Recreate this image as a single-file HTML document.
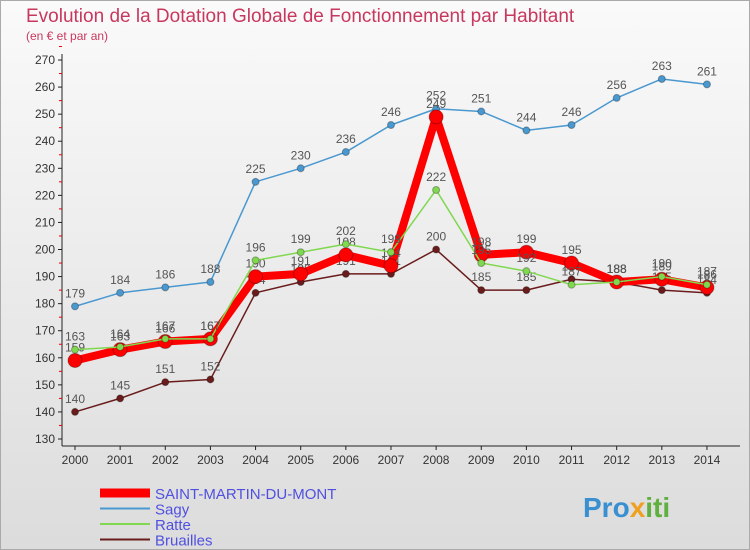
<!DOCTYPE html>
<html><head><meta charset="utf-8"><style>
body{margin:0;width:750px;height:550px;overflow:hidden;font-family:"Liberation Sans",sans-serif}
#c{position:absolute;left:0;top:0;width:748px;height:548px;border:1px solid #aaa;background:linear-gradient(#fafafa,#dcdcdc)}
</style></head><body>
<div id="c"></div>
<svg id="s" width="750" height="550" style="position:absolute;left:0;top:0">
<text x="26" y="22" font-size="19" fill="#c8385e">Evolution de la Dotation Globale de Fonctionnement par Habitant</text>
<text x="26" y="40" font-size="12" fill="#c8385e">(en € et par an)</text>
<g id="g"></g>
<text x="583" y="517" font-size="28" font-weight="bold" fill="#3a8fd0">Pro<tspan fill="#f0a020">x</tspan><tspan fill="#60b040">iti</tspan></text>
</svg>
<script>
const years=[2000,2001,2002,2003,2004,2005,2006,2007,2008,2009,2010,2011,2012,2013,2014];
const yTicks=[130,140,150,160,170,180,190,200,210,220,230,240,250,260,270];
const smm=[159,163,166,167,190,191,198,194,249,198,199,195,188,189,186];
const sagy=[179,184,186,188,225,230,236,246,252,251,244,246,256,263,261];
const ratte=[163,164,167,167,196,199,202,199,222,195,192,187,188,190,187];
const bruailles=[140,145,151,152,184,188,191,191,200,185,185,189,188,185,184];
const NS="http://www.w3.org/2000/svg",g=document.getElementById('g');
const X=i=>75+i*45.14, Y=v=>439-(v-130)*2.707;
function el(t,a,p){const e=document.createElementNS(NS,t);for(const k in a)e.setAttribute(k,a[k]);(p||g).appendChild(e);return e;}
let e=el('line',{x1:62,y1:54,x2:62,y2:446,stroke:'#222'});


e=el('line',{x1:62,y1:446,x2:740,y2:446,stroke:'#222'});


yTicks.forEach(v=>{
 el('line',{x1:58,y1:Y(v),x2:62,y2:Y(v),stroke:'#222'});
 el('line',{x1:59,y1:Y(v+5),x2:62,y2:Y(v+5),stroke:'#e00'});
 const t=el('text',{x:55,y:Y(v)+4,'font-size':12,fill:'#333','text-anchor':'end'});t.textContent=v;
 
 
});
years.forEach((y,i)=>{
 el('line',{x1:X(i),y1:446,x2:X(i),y2:450,stroke:'#222'});
 const t=el('text',{x:X(i),y:464,'font-size':12,fill:'#333','text-anchor':'middle'});t.textContent=y;
 
 
});
function series(d,c,w,r,name,labels){
 const p=el('polyline',{points:d.map((v,i)=>X(i)+','+Y(v)).join(' '),fill:'none',stroke:c,'stroke-width':w,'stroke-linejoin':'round'});
 
 
 d.forEach((v,i)=>{
  const m=el('circle',{cx:X(i),cy:Y(v),r:r,fill:c,stroke:'rgba(0,0,0,0.3)'});
  
  
  if(labels){const t=el('text',{x:X(i),y:Y(v)-9,'font-size':12,fill:'#555','text-anchor':'middle'});t.textContent=v;
  
  }
 });
}
series(sagy,'#4a98d0',1.5,3.5,'sagy',true);
series(bruailles,'#6a1c1c',1.5,3.5,'bruailles',true);
series(smm,'#f00',8,7,'saint-martin-du-mont',true);
series(ratte,'#80d850',1.5,3.5,'ratte',true);
const leg=[['SAINT-MARTIN-DU-MONT','#f00',9],['Sagy','#4a98d0',2],['Ratte','#80d850',2],['Bruailles','#6a1c1c',2]];
leg.forEach((l,i)=>{
 const y=493+i*15.5;
 const ln=el('line',{x1:100,y1:y,x2:150,y2:y,stroke:l[1],'stroke-width':l[2]});
 
 
 const t=el('text',{x:155,y:y+6,'font-size':15,fill:'#5050e0'});t.textContent=l[0];
 
 
});
</script>
</body></html>
